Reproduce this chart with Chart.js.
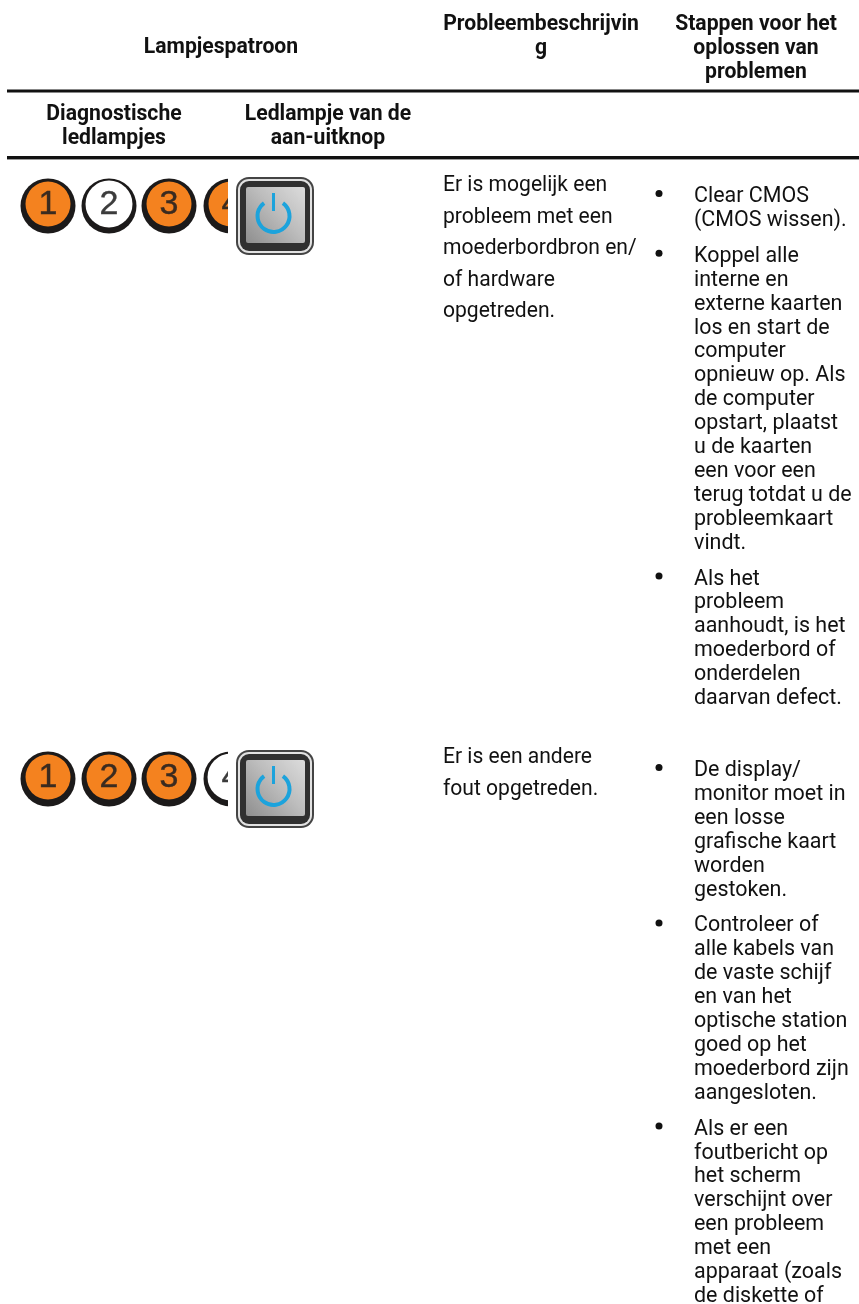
<!DOCTYPE html>
<html>
<head>
<meta charset="utf-8">
<script src="https://cdn.jsdelivr.net/npm/chart.js@4/dist/chart.umd.min.js"></script>
<style>
  html, body { margin: 0; padding: 0; background: #fff; }
  canvas { display: block; }
</style>
</head>
<body>
<canvas id="tabel" width="859" height="1304"></canvas>
<script>
// kolomkoppen
const headTop = ['Lampjespatroon'];
const headSub = [['Diagnostische', 'ledlampjes'], ['Ledlampje van de', 'aan-uitknop']];
const headProblem = ['Probleembeschrijvin', 'g'];
const headSteps = ['Stappen voor het', 'oplossen van', 'problemen'];

// lampjes: 1 = oranje, 0 = wit
const ledDigits = ['1', '2', '3', '4'];
const ledRow1 = [1, 0, 1, 1];
const ledRow2 = [1, 1, 1, 0];

const problem1 = ['Er is mogelijk een', 'probleem met een', 'moederbordbron en/', 'of hardware', 'opgetreden.'];
const problem2 = ['Er is een andere', 'fout opgetreden.'];

const steps1 = [
  ['Clear CMOS', '(CMOS wissen).'],
  ['Koppel alle', 'interne en', 'externe kaarten', 'los en start de', 'computer', 'opnieuw op. Als', 'de computer', 'opstart, plaatst', 'u de kaarten', 'een voor een', 'terug totdat u de', 'probleemkaart', 'vindt.'],
  ['Als het', 'probleem', 'aanhoudt, is het', 'moederbord of', 'onderdelen', 'daarvan defect.']
];
const steps2 = [
  ['De display/', 'monitor moet in', 'een losse', 'grafische kaart', 'worden', 'gestoken.'],
  ['Controleer of', 'alle kabels van', 'de vaste schijf', 'en van het', 'optische station', 'goed op het', 'moederbord zijn', 'aangesloten.'],
  ['Als er een', 'foutbericht op', 'het scherm', 'verschijnt over', 'een probleem', 'met een', 'apparaat (zoals', 'de diskette of']
];

// layout, in paginapixels
const PROBLEM_FONT = '400 21.5px Roboto';
const STEPS_FONT = '400 22px Roboto';
const HEAD = '700 22.5px Roboto';
const problemStretch = 0.98;
const stepsStretch = 0.975;
const headStretch = 0.94;
const ruleYs = [91, 157.5, 159.5];
const ruleWidths = [3, 3, 1];
const ruleColors = ['#111', '#111', '#999'];
const ruleXs = [7, 859];
const ledXs = [48, 109, 169, 231];
const rowLedY = [205, 778];
const buttonX = 275;
const rowButtonY = [216, 789];
const problemX = 443;
const bulletX = 659;
const stepsX = 694;
const problemBase = [191, 763];
const problemLine = 31.6;
const stepsBase = [202, 776];
const stepsLine = 23.9;
const stepsGap = 12;

// een lampje als plaatje, de kaart zet het op de punt
function makeLed(digit, on, clipRight) {
  const c = document.createElement('canvas');
  c.width = 66; c.height = 66;
  const g = c.getContext('2d');
  g.filter = 'blur(0.7px)';
  if (clipRight) { g.beginPath(); g.rect(0, 0, clipRight, 66); g.clip(); }
  g.fillStyle = '#1c1a1a';
  g.beginPath(); g.arc(33, 34, 27.5, 0, Math.PI * 2); g.fill();
  g.fillStyle = on ? '#f4821f' : '#ffffff';
  g.beginPath();
  if (on) g.arc(33, 32, 22.5, 0, Math.PI * 2);
  else g.arc(33, 32, 23.5, 0, Math.PI * 2);
  g.fill();
  g.fillStyle = on ? '#3a2b20' : '#3c3c3c';
  g.strokeStyle = g.fillStyle;
  g.lineWidth = 0.4;
  g.font = '400 34px "Liberation Sans"';
  g.textAlign = 'center';
  g.textBaseline = 'middle';
  g.fillText(digit, 33, 33);
  g.strokeText(digit, 33, 33);
  return c;
}

function makeButton() {
  const c = document.createElement('canvas');
  c.width = 80; c.height = 80;
  const g = c.getContext('2d');
  g.filter = 'blur(0.7px)';
  const box = (x, y, w, h, r) => { g.beginPath(); g.roundRect(x, y, w, h, r); };
  g.fillStyle = '#444'; box(1, 1, 78, 78, 13); g.fill();
  g.fillStyle = '#e2e2e2'; box(3, 3, 74, 74, 11); g.fill();
  g.fillStyle = '#303030'; box(5, 5, 70, 70, 9); g.fill();
  const grad = g.createLinearGradient(11, 67, 70, 11);
  grad.addColorStop(0, '#8e8e8e');
  grad.addColorStop(0.55, '#bdbdbd');
  grad.addColorStop(1, '#dcdcdc');
  g.fillStyle = grad; box(11, 11, 59, 56, 2); g.fill();
  g.strokeStyle = '#1ca3dc';
  g.lineWidth = 4;
  g.beginPath(); g.arc(38.5, 40, 16, -Math.PI * 0.3, Math.PI * 1.3); g.stroke();
  g.lineWidth = 3;
  g.beginPath(); g.moveTo(38.5, 17); g.lineTo(38.5, 35); g.stroke();
  return c;
}

function pointsOf(pattern, y) {
  return pattern.map((on, i) => ({ x: ledXs[i], y: y }));
}

function ledImages(pattern) {
  return pattern.map((on, i) => makeLed(ledDigits[i], on === 1, i === 3 ? 30 : 0));
}

// y van de eerste regel per opsomming
function bulletYs(groups, base) {
  const out = [];
  let y = base;
  groups.forEach(lines => {
    out.push(y);
    y += lines.length * stepsLine + stepsGap;
  });
  return out;
}

const bullets = [];
[steps1, steps2].forEach((groups, r) => {
  bulletYs(groups, stepsBase[r]).forEach(y => bullets.push({ x: bulletX, y: y - 8.5 }));
});

const buttonImg = makeButton();

const textPlugin = {
  id: 'tekst',
  afterDatasetsDraw(chart) {
    const ctx = chart.ctx;
    const sx = chart.scales.x, sy = chart.scales.y;
    const put = (str, x, y, font, stretch, center) => {
      ctx.save();
      ctx.font = font;
      ctx.fillStyle = '#111';
      ctx.textBaseline = 'alphabetic';
      ctx.textAlign = center ? 'center' : 'left';
      ctx.translate(sx.getPixelForValue(x), sy.getPixelForValue(y));
      ctx.scale(stretch, 1);
      ctx.fillText(str, 0, 0);
      ctx.restore();
    };
    put(headTop[0], 221, 53, HEAD, headStretch, true);
    headSub[0].forEach((s, i) => put(s, 114, 120 + i * 24, HEAD, headStretch, true));
    headSub[1].forEach((s, i) => put(s, 328, 120 + i * 24, HEAD, headStretch, true));
    headProblem.forEach((s, i) => put(s, 541, 30 + i * 24, HEAD, headStretch, true));
    headSteps.forEach((s, i) => put(s, 756, 30 + i * 24, HEAD, headStretch, true));
    [problem1, problem2].forEach((lines, r) => {
      lines.forEach((s, i) => put(s, problemX, problemBase[r] + i * problemLine, PROBLEM_FONT, problemStretch, false));
    });
    [steps1, steps2].forEach((groups, r) => {
      let y = stepsBase[r];
      groups.forEach(lines => {
        lines.forEach(s => { put(s, stepsX, y, STEPS_FONT, stepsStretch, false); y += stepsLine; });
        y += stepsGap;
      });
    });
  }
};

new Chart(document.getElementById('tabel'), {
  type: 'scatter',
  data: {
    datasets: [
      ...ruleYs.map((y, i) => ({
        type: 'line',
        data: ruleXs.map(x => ({ x: x, y: y })),
        borderColor: ruleColors[i],
        borderWidth: ruleWidths[i],
        pointRadius: 0
      })),
      { data: pointsOf(ledRow1, rowLedY[0]), pointStyle: ledImages(ledRow1) },
      { data: pointsOf(ledRow2, rowLedY[1]), pointStyle: ledImages(ledRow2) },
      { data: rowButtonY.map(y => ({ x: buttonX, y: y })), pointStyle: buttonImg },
      { data: bullets, pointStyle: 'circle', pointRadius: 3.5, backgroundColor: '#111', borderWidth: 0 }
    ]
  },
  options: {
    responsive: false,
    animation: false,
    layout: { padding: 0, autoPadding: false },
    plugins: { legend: { display: false }, tooltip: { enabled: false } },
    scales: {
      x: { type: 'linear', display: false, min: 0, max: 859 },
      y: { type: 'linear', display: false, min: 0, max: 1304, reverse: true }
    }
  },
  plugins: [textPlugin]
});
</script>
</body>
</html>
